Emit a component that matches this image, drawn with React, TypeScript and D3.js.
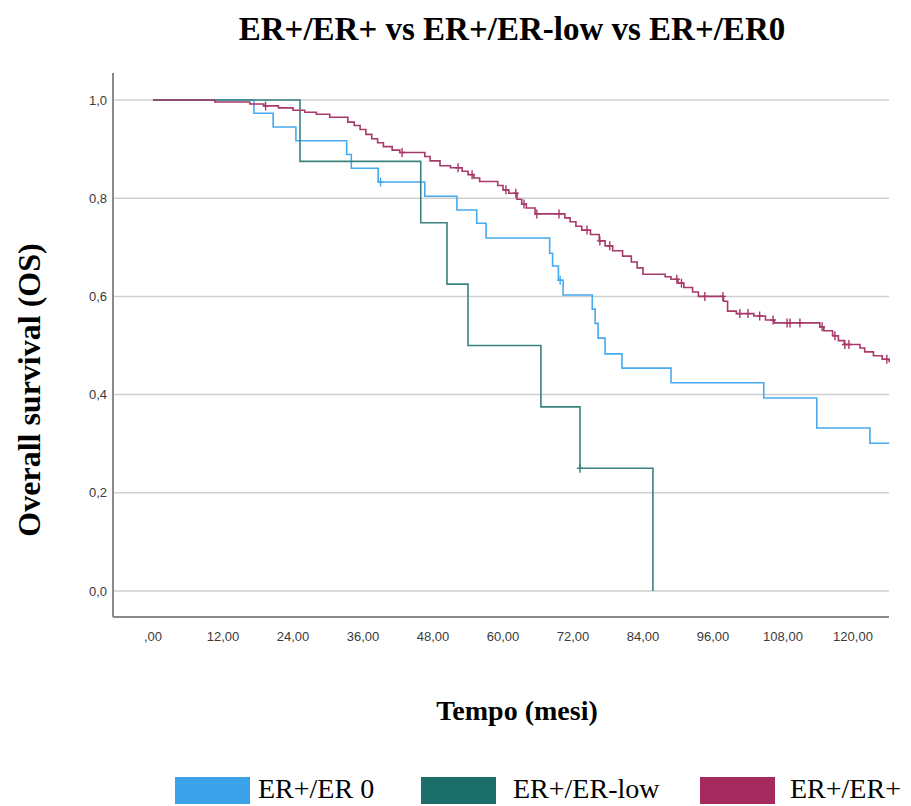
import React from 'react';
import * as d3 from 'd3';

// Kaplan-Meier steps: [months, survival]
const er0Steps: [number, number][] = [
  [0, 1.0], [17.3, 0.973], [20.6, 0.945], [24.5, 0.917], [33.2, 0.889], [34, 0.861],
  [38.6, 0.833], [46.6, 0.804], [52.1, 0.776], [55.5, 0.749], [57.1, 0.719],
  [68, 0.688], [68.5, 0.662], [69.5, 0.633], [70.3, 0.603], [75.3, 0.574],
  [75.8, 0.545], [76.3, 0.515], [77.5, 0.483], [80.4, 0.454], [88.8, 0.424],
  [104.7, 0.393], [113.8, 0.332], [122.9, 0.301], [126.2, 0.301],
];
const er0Censored = [39, 69.8];

const erLowSteps: [number, number][] = [
  [0, 1.0], [25.2, 0.875], [45.9, 0.75], [50.4, 0.625], [54, 0.5],
  [66.5, 0.375], [73.2, 0.25], [85.7, 0],
];
const erLowCensored = [73.2];

const erPosSteps: [number, number][] = [
  [0, 1.0], [10.6, 0.996], [16.6, 0.992], [19, 0.988], [21.5, 0.984], [24, 0.979],
  [26, 0.975], [28, 0.971], [30.3, 0.965], [33.4, 0.955], [34.5, 0.948], [35.5, 0.94],
  [36.5, 0.93], [37.5, 0.921], [38.5, 0.913], [39.5, 0.905], [41, 0.898], [42.3, 0.893],
  [46.6, 0.885], [47.5, 0.876], [49.2, 0.866], [51, 0.862], [53, 0.855], [54, 0.848],
  [55, 0.841], [56, 0.834], [59.1, 0.826], [60, 0.817], [61, 0.81], [62.4, 0.798],
  [63.2, 0.788], [64, 0.78], [65.5, 0.768], [70.6, 0.76], [71.5, 0.752], [72.5, 0.743],
  [73.5, 0.735], [75, 0.726], [76.5, 0.713], [77.5, 0.703], [78.8, 0.693], [80.5, 0.682],
  [82, 0.67], [83, 0.658], [84, 0.645], [87.8, 0.64], [88.8, 0.635], [90, 0.627],
  [91, 0.618], [92.5, 0.609], [93.5, 0.6], [97.8, 0.59], [98.5, 0.57], [100, 0.565],
  [103, 0.56], [105, 0.552], [106.5, 0.546], [114.3, 0.538], [115, 0.53], [116.5, 0.52],
  [117.5, 0.51], [118.5, 0.502], [121.2, 0.495], [122, 0.487], [123.5, 0.479],
  [125, 0.472], [126.2, 0.466],
];
const erPosCensored = [
  19.3, 42.7, 52.3, 54.7, 60.5, 62.2, 63.6, 65.8, 69.6, 74.4, 76.6, 78.3, 89.8, 90.6,
  94.6, 97.7, 100.6, 102, 104, 106.3, 108.7, 109.2, 110.9, 114.7, 116.9, 118.6, 119.3, 125.8,
];

const xTicks = [0, 12, 24, 36, 48, 60, 72, 84, 96, 108, 120];
const yTicks = [0, 0.2, 0.4, 0.6, 0.8, 1.0];

const series = [
  { name: 'ER+/ER 0', steps: er0Steps, censored: er0Censored, line: '#45aaf0', swatch: '#3ba1e8' },
  { name: 'ER+/ER-low', steps: erLowSteps, censored: erLowCensored, line: '#3a827d', swatch: '#1b6e6a' },
  { name: 'ER+/ER+', steps: erPosSteps, censored: erPosCensored, line: '#a8386a', swatch: '#a52a5e' },
];

const W = 911;
const H = 806;
const plot = { left: 113, right: 889, top: 73, bottom: 617 };
const legendRectX = [175, 421, 700];
const legendTextX = [258, 513, 790];

const fmtX = (v: number) => (v === 0 ? ',00' : `${v},00`);
const fmtY = (v: number) => v.toFixed(1).replace('.', ',');

const survivalAt = (steps: [number, number][], t: number) => {
  let s = steps[0][1];
  for (const [time, val] of steps) {
    if (time <= t) s = val;
  }
  return s;
};

const serif = "'Liberation Serif', 'Times New Roman', serif";
const sans = "'Liberation Sans', Arial, sans-serif";

const App: React.FC = () => {
  const x = d3.scaleLinear().domain([0, 120]).range([153, 853]);
  const y = d3.scaleLinear().domain([0, 1]).range([591, 100]);

  const line = d3
    .line<[number, number]>()
    .x((d) => x(d[0]))
    .y((d) => y(d[1]))
    .curve(d3.curveStepAfter);

  return (
    <svg
      width={W}
      height={H}
      style={{ position: 'absolute', left: 0, top: 0, background: '#fff' }}
    >
      <text
        x={512}
        y={40}
        textAnchor="middle"
        fontFamily={serif}
        fontWeight="bold"
        fontSize={33}
        fill="#000"
      >
        ER+/ER+ vs ER+/ER-low vs ER+/ER0
      </text>

      {/* grid lines */}
      {yTicks.map((t) => (
        <line
          key={`g${t}`}
          x1={plot.left}
          x2={plot.right}
          y1={y(t)}
          y2={y(t)}
          stroke="#cfcfcf"
          strokeWidth={1.5}
        />
      ))}

      {/* axes */}
      <line x1={plot.left} x2={plot.left} y1={plot.top} y2={plot.bottom} stroke="#8a8a8a" strokeWidth={2} />
      <line x1={plot.left} x2={plot.right} y1={plot.bottom} y2={plot.bottom} stroke="#8a8a8a" strokeWidth={2} />

      {yTicks.map((t) => (
        <text
          key={`y${t}`}
          x={107}
          y={y(t) + 4.5}
          textAnchor="end"
          fontFamily={sans}
          fontSize={13}
          fill="#3a3a3a"
        >
          {fmtY(t)}
        </text>
      ))}
      {xTicks.map((t) => (
        <text
          key={`x${t}`}
          x={x(t)}
          y={641}
          textAnchor="middle"
          fontFamily={sans}
          fontSize={13}
          fill="#3a3a3a"
        >
          {fmtX(t)}
        </text>
      ))}

      {/* survival curves */}
      {series.map((s) => (
        <g key={s.name}>
          <path d={line(s.steps) || ''} fill="none" stroke={s.line} strokeWidth={1.6} />
          {s.censored.map((c, i) => {
            const cx = x(c);
            const cy = y(survivalAt(s.steps, c));
            return (
              <path
                key={i}
                d={`M${cx},${cy - 4.5}V${cy + 4.5}M${cx - 3},${cy}H${cx + 3}`}
                stroke={s.line}
                strokeWidth={1.4}
                fill="none"
              />
            );
          })}
        </g>
      ))}

      <text
        x={517}
        y={720}
        textAnchor="middle"
        fontFamily={serif}
        fontWeight="bold"
        fontSize={28}
        fill="#000"
      >
        Tempo (mesi)
      </text>
      <text
        transform="translate(40,390) rotate(-90)"
        textAnchor="middle"
        fontFamily={serif}
        fontWeight="bold"
        fontSize={32}
        fill="#000"
      >
        Overall survival (OS)
      </text>

      {/* legend */}
      {series.map((s, i) => (
        <g key={`l${s.name}`}>
          <rect x={legendRectX[i]} y={777} width={75} height={27} fill={s.swatch} />
          <text x={legendTextX[i]} y={798} fontFamily={serif} fontSize={28} fill="#000">
            {s.name}
          </text>
        </g>
      ))}
    </svg>
  );
};

export default App;
